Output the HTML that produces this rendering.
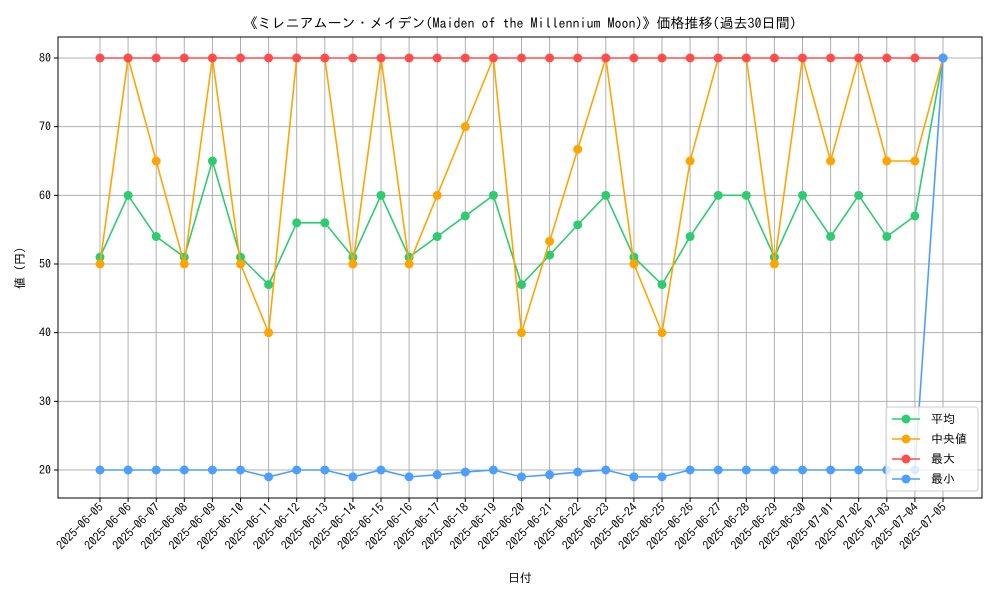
<!DOCTYPE html>
<html><head><meta charset="utf-8"><style>
body{margin:0;background:#fff;font-family:"IPAGothic","Noto Sans CJK JP",sans-serif}
svg text{font-family:"IPAGothic","Noto Sans CJK JP",monospace}
</style></head><body>
<svg id="c" width="1000" height="600" xmlns="http://www.w3.org/2000/svg"></svg>
<script>
const dates=["2025-06-05","2025-06-06","2025-06-07","2025-06-08","2025-06-09","2025-06-10","2025-06-11","2025-06-12","2025-06-13","2025-06-14","2025-06-15","2025-06-16","2025-06-17","2025-06-18","2025-06-19","2025-06-20","2025-06-21","2025-06-22","2025-06-23","2025-06-24","2025-06-25","2025-06-26","2025-06-27","2025-06-28","2025-06-29","2025-06-30","2025-07-01","2025-07-02","2025-07-03","2025-07-04","2025-07-05"];
const avgVals=[51,60,54,51,65,51,47,56,56,51,60,51,54,57,60,47,51.3,55.7,60,51,47,54,60,60,51,60,54,60,54,57,80];
const medVals=[50,80,65,50,80,50,40,80,80,50,80,50,60,70,80,40,53.3,66.7,80,50,40,65,80,80,50,80,65,80,65,65,80];
const maxVals=[80,80,80,80,80,80,80,80,80,80,80,80,80,80,80,80,80,80,80,80,80,80,80,80,80,80,80,80,80,80,80];
const minVals=[20,20,20,20,20,20,19,20,20,19,20,19,19.3,19.7,20,19,19.3,19.7,20,19,19,20,20,20,20,20,20,20,20,20,80];
const yTicks=[20,30,40,50,60,70,80];
const svg=document.getElementById('c');const NS="http://www.w3.org/2000/svg";
function el(t,a,p){const e=document.createElementNS(NS,t);for(const k in a)e.setAttribute(k,a[k]);(p||svg).appendChild(e);return e;}
const L=58,R=982,T=37,B=498;
const x=i=>100+i*(943-100)/(dates.length-1);
const y=v=>470-(v-20)*(470-58)/60;
yTicks.forEach(v=>{const g=el('line',{x1:L,x2:R,y1:y(v),y2:y(v),stroke:'#b0b0b0','stroke-width':1});

el('line',{x1:L-4,x2:L,y1:y(v),y2:y(v),stroke:'#000'});
const t=el('text',{x:L-7,y:y(v)+4,'text-anchor':'end','font-size':12});t.textContent=v;
});
dates.forEach((d,i)=>{const g=el('line',{x1:x(i),x2:x(i),y1:T,y2:B,stroke:'#b0b0b0','stroke-width':1});

el('line',{x1:x(i),x2:x(i),y1:B,y2:B+4,stroke:'#000'});
const t=el('text',{x:x(i)+4,y:B+10,'text-anchor':'end','font-size':12,transform:`rotate(-45 ${x(i)+4} ${B+10})`});t.textContent=d;
});
[[avgVals,'#2ecc71','average-series'],[medVals,'#ffa500','median-series'],[maxVals,'#ff4d4d','max-series'],[minVals,'#4d9fff','min-series']].forEach(([vals,c,n])=>{
const g=el('g',{});
el('polyline',{points:vals.map((v,i)=>x(i)+','+y(v)).join(' '),fill:'none',stroke:c,'stroke-width':1.6},g);
vals.forEach((v,i)=>{const p=el('circle',{cx:x(i),cy:y(v),r:4.5,fill:c},g);
});});
const fr=el('rect',{x:L,y:T,width:R-L,height:B-T,fill:'none',stroke:'#000','stroke-width':1});

let t=el('text',{x:520,y:28,'text-anchor':'middle','font-size':14});t.textContent='《ミレニアムーン・メイデン(Maiden of the Millennium Moon)》価格推移(過去30日間)';

t=el('text',{x:520,y:582,'text-anchor':'middle','font-size':12});t.textContent='日付';

t=el('text',{x:24,y:268,'text-anchor':'middle','font-size':12,transform:'rotate(-90 24 268)'});t.textContent='値 (円)';

const lg=el('g',{});
el('rect',{x:886,y:407,width:92,height:84,rx:3,fill:'rgba(255,255,255,0.8)',stroke:'#ccc'},lg);
[['平均','#2ecc71'],['中央値','#ffa500'],['最大','#ff4d4d'],['最小','#4d9fff']].forEach(([lab,c],k)=>{
const yy=419+k*20;const e=el('g',{},lg);
el('line',{x1:892,x2:920,y1:yy,y2:yy,stroke:c,'stroke-width':1.6},e);
el('circle',{cx:906,cy:yy,r:4.5,fill:c},e);
const tt=el('text',{x:931,y:yy+4,'font-size':12},e);tt.textContent=lab;});
</script>
</body></html>
